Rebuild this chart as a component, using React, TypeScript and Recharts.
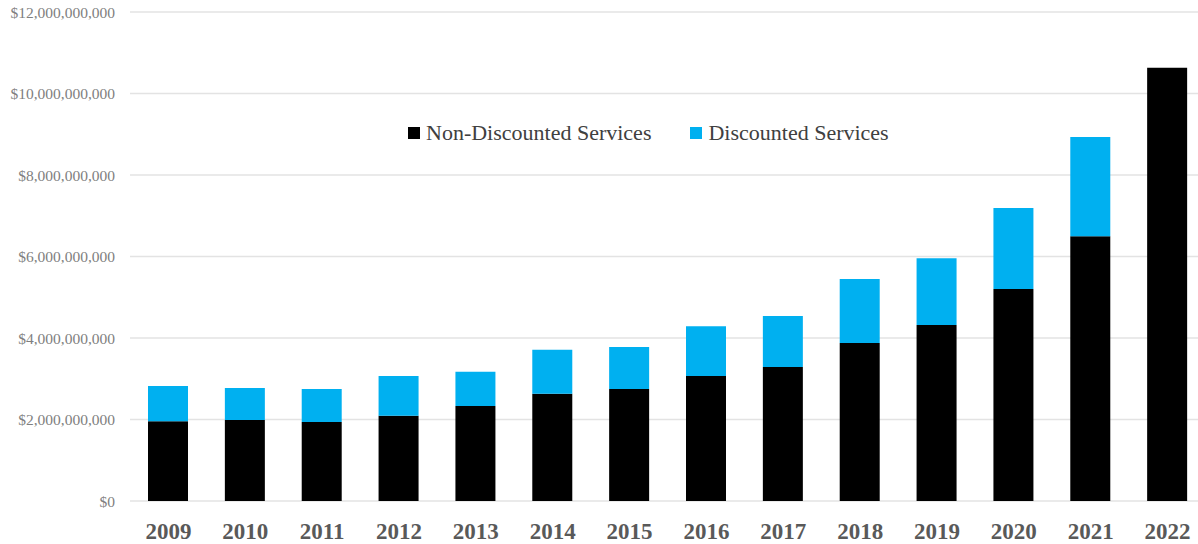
import { BarChart, Bar, XAxis, YAxis, CartesianGrid } from "recharts";

const years = ["2009", "2010", "2011", "2012", "2013", "2014", "2015", "2016", "2017", "2018", "2019", "2020", "2021", "2022"];

// billions of dollars
const nonDiscounted = [1.96, 1.99, 1.94, 2.09, 2.33, 2.63, 2.75, 3.07, 3.29, 3.88, 4.32, 5.2, 6.5, 10.63];
const discounted = [0.86, 0.78, 0.81, 0.98, 0.84, 1.08, 1.03, 1.22, 1.25, 1.57, 1.64, 1.99, 2.43, 0];

const yTicks = [0, 2e9, 4e9, 6e9, 8e9, 10e9, 12e9];

const legendItems = [
  { label: "Non-Discounted Services", color: "#000000" },
  { label: "Discounted Services", color: "#00b0f0" },
];

const data = years.map((year, i) => ({
  year,
  nonDiscounted: nonDiscounted[i] * 1e9,
  discounted: discounted[i] * 1e9,
}));

const serif = "'Liberation Serif', 'DejaVu Serif', serif";

const fmtMoney = (v: number) => "$" + v.toLocaleString("en-US");

function LegendBox() {
  return (
    <div
      style={{
        position: "absolute",
        top: 120,
        left: 408,
        display: "flex",
        alignItems: "center",
        fontFamily: serif,
        fontSize: 22,
        color: "#404040",
      }}
    >
      {legendItems.map((item) => (
        <div key={item.label} style={{ display: "flex", alignItems: "center", marginRight: 39 }}>
          <span style={{ width: 12, height: 12, background: item.color, display: "inline-block", marginRight: 6 }} />
          <span>{item.label}</span>
        </div>
      ))}
    </div>
  );
}

export default function App() {
  return (
    <div style={{ position: "absolute", left: 0, top: 0, width: 1198, height: 544, overflow: "hidden", background: "#fff" }}>
      <BarChart
        width={1206}
        height={544}
        data={data}
        margin={{ top: 12, right: 0, bottom: 0, left: 0 }}
        barCategoryGap={0}
      >
        <CartesianGrid vertical={false} stroke="#e3e3e3" strokeWidth={1.5} />
        <XAxis
          dataKey="year"
          axisLine={false}
          tickLine={false}
          tickSize={0}
          tickMargin={22}
          height={43}
          interval={0}
          tick={{ fill: "#595959", fontSize: 23, fontWeight: 700, fontFamily: serif }}
        />
        <YAxis
          width={130}
          domain={[0, 12e9]}
          ticks={yTicks}
          axisLine={false}
          tickLine={false}
          tickSize={0}
          tickMargin={15}
          tickFormatter={fmtMoney}
          tick={{ fill: "#7f7f7f", fontSize: 15.5, fontFamily: serif }}
        />
        <Bar dataKey="nonDiscounted" stackId="a" fill="#000000" barSize={40} isAnimationActive={false} />
        <Bar dataKey="discounted" stackId="a" fill="#00b0f0" barSize={40} isAnimationActive={false} />
      </BarChart>
      <LegendBox />
    </div>
  );
}
